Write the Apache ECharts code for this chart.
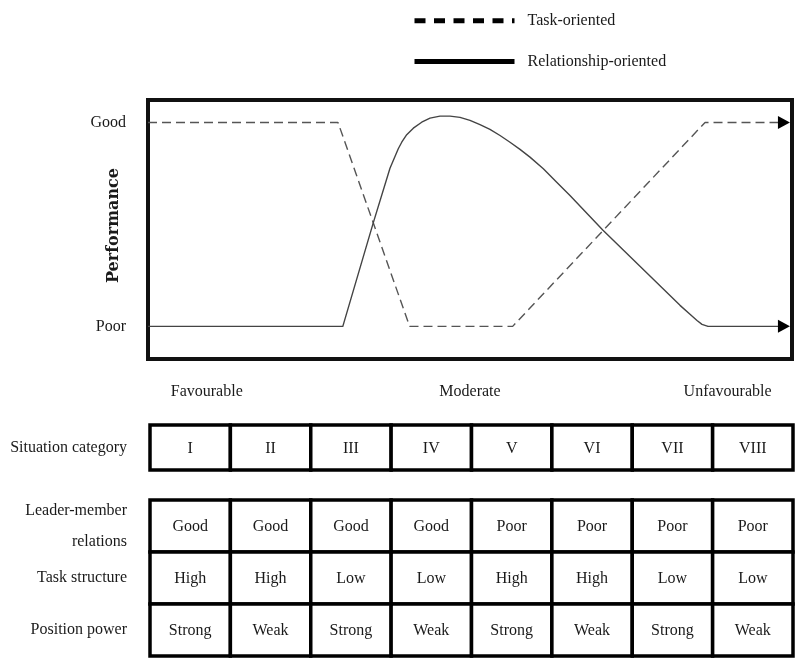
<!DOCTYPE html>
<html>
<head>
<meta charset="utf-8">
<script src="https://cdn.jsdelivr.net/npm/echarts@6/dist/echarts.min.js"></script>
<style>html,body{margin:0;padding:0;background:#fff;}#chart{width:795px;height:660px;}</style>
</head>
<body>
<div id="chart"></div>
<script>
// ---- data ----
const situationCategories = ['I', 'II', 'III', 'IV', 'V', 'VI', 'VII', 'VIII'];
const tableRowLabels = ['Leader-member\nrelations', 'Task structure', 'Position power'];
const leaderMemberRelations = ['Good', 'Good', 'Good', 'Good', 'Poor', 'Poor', 'Poor', 'Poor'];
const taskStructure = ['High', 'High', 'Low', 'Low', 'High', 'High', 'Low', 'Low'];
const positionPower = ['Strong', 'Weak', 'Strong', 'Weak', 'Strong', 'Weak', 'Strong', 'Weak'];
const favourabilityLabels = ['Favourable', 'Moderate', 'Unfavourable'];
const favourabilityPositions = [0.73, 4, 7.2];
const performanceLabels = ['Poor', 'Good'];   // performance 0 and 1
// [situation position (0..8), performance (0 = Poor, 1 = Good)]
const taskOriented = [[0, 1], [2.36, 1], [3.25, 0], [4.53, 0], [6.92, 1], [7.90, 1]];
const relationshipOriented = [
  [0, 0], [2.42, 0], [2.80, 0.51], [3.006, 0.775], [3.109, 0.871], [3.152, 0.903],
  [3.214, 0.940], [3.296, 0.972], [3.400, 1.001], [3.503, 1.021], [3.627, 1.031],
  [3.752, 1.031], [3.876, 1.025], [4.000, 1.010], [4.124, 0.989], [4.248, 0.966],
  [4.373, 0.936], [4.497, 0.903], [4.621, 0.868], [4.745, 0.830], [4.911, 0.773],
  [5.077, 0.707], [5.242, 0.642], [5.652, 0.471], [6.609, 0.103], [6.733, 0.059],
  [6.820, 0.029], [6.882, 0.010], [6.957, 0], [7.90, 0]
];

// ---- build ----
const FONT = 'Liberation Serif';
const TXT = '#1a1a1a';
function withArrow(arr) {
  return arr.map((p, i) => i === arr.length - 1
    ? { value: p, symbol: 'triangle', symbolSize: [13, 12], symbolRotate: -90, itemStyle: { color: '#000' } }
    : p);
}
const tableRows = [leaderMemberRelations, taskStructure, positionPower];
const tableData = [];
tableRows.forEach((row, r) => row.forEach((v, i) => tableData.push([i, r])));

function cell(text, api) {
  const c = api.coord([api.value(0), api.value(1)]);
  const s = api.size([1, 1]);
  return {
    type: 'group',
    children: [
      { type: 'rect', shape: { x: c[0] - s[0] / 2, y: c[1] - s[1] / 2, width: s[0], height: s[1] },
        style: { fill: '#fff', stroke: '#000', lineWidth: 3.5 } },
      { type: 'text', x: c[0], y: c[1] + 1,
        style: { text: text, fill: TXT, fontFamily: FONT, fontSize: 16, align: 'center', verticalAlign: 'middle' } }
    ]
  };
}

const chart = echarts.init(document.getElementById('chart'), null, { renderer: 'canvas' });
chart.setOption({
  animation: false,
  backgroundColor: '#fff',
  legend: {
    orient: 'vertical', left: 407, top: 7, itemWidth: 100, itemHeight: 22, itemGap: 23,
    textStyle: { fontFamily: FONT, fontSize: 16, color: TXT, padding: [0, 0, 0, 8] },
    itemStyle: { opacity: 0 },
    data: [
      { name: 'Task-oriented', itemStyle: { opacity: 0 }, lineStyle: { width: 5, color: '#000', type: [11, 8.5] } },
      { name: 'Relationship-oriented', itemStyle: { opacity: 0 }, lineStyle: { width: 5, color: '#000', type: 'solid' } }
    ]
  },
  grid: [
    { left: 148, top: 100, width: 644, height: 259, show: true, borderColor: '#111', borderWidth: 4 },
    { left: 150, top: 425, width: 643, height: 45 },
    { left: 150, top: 500, width: 643, height: 156 }
  ],
  xAxis: [
    { type: 'value', gridIndex: 0, min: 0, max: 8,
      axisLine: { show: false }, axisTick: { show: false }, splitLine: { show: false },
      axisLabel: { customValues: favourabilityPositions, margin: 25, fontFamily: FONT, fontSize: 16, color: TXT,
        formatter: v => favourabilityLabels[favourabilityPositions.indexOf(v)] || '' } },
    { type: 'category', gridIndex: 1, data: situationCategories, show: false },
    { type: 'category', gridIndex: 2, data: situationCategories, show: false }
  ],
  yAxis: [
    { type: 'value', gridIndex: 0, min: -0.16, max: 1.11,
      axisLine: { show: false }, axisTick: { show: false }, splitLine: { show: false },
      axisLabel: { customValues: [0, 1], margin: 22, fontFamily: FONT, fontSize: 16, color: TXT,
        formatter: v => performanceLabels[v] },
      name: 'Performance', nameLocation: 'middle', nameRotate: 90, nameGap: 26, nameMoveOverlap: false,
      nameTextStyle: { fontFamily: 'DejaVu Serif', fontWeight: 'bold', fontSize: 16, color: TXT, padding: [0, 0, 0, 8] } },
    { type: 'category', gridIndex: 1, data: ['Situation category'],
      axisLine: { show: false }, axisTick: { show: false }, splitLine: { show: false },
      axisLabel: { margin: 23, fontFamily: FONT, fontSize: 16, color: TXT } },
    { type: 'category', gridIndex: 2, data: tableRowLabels, inverse: true,
      axisLine: { show: false }, axisTick: { show: false }, splitLine: { show: false },
      axisLabel: { margin: 23, fontFamily: FONT, fontSize: 16, color: TXT, lineHeight: 31, align: 'right' } }
  ],
  series: [
    { name: 'Task-oriented', type: 'line', xAxisIndex: 0, yAxisIndex: 0,
      symbol: 'none', showSymbol: true, data: withArrow(taskOriented),
      lineStyle: { color: '#555', width: 1.4, type: [9, 5] }, itemStyle: { color: '#000' } },
    { name: 'Relationship-oriented', type: 'line', xAxisIndex: 0, yAxisIndex: 0,
      symbol: 'none', showSymbol: true, data: withArrow(relationshipOriented),
      lineStyle: { color: '#444', width: 1.4, join: 'round' }, itemStyle: { color: '#000' } },
    { type: 'custom', xAxisIndex: 1, yAxisIndex: 1, silent: true,
      data: situationCategories.map((c, i) => [i, 0]),
      renderItem: (params, api) => cell(situationCategories[params.dataIndex], api) },
    { type: 'custom', xAxisIndex: 2, yAxisIndex: 2, silent: true,
      data: tableData,
      renderItem: (params, api) => cell(tableRows[api.value(1)][api.value(0)], api) }
  ]
});
</script>
</body>
</html>
